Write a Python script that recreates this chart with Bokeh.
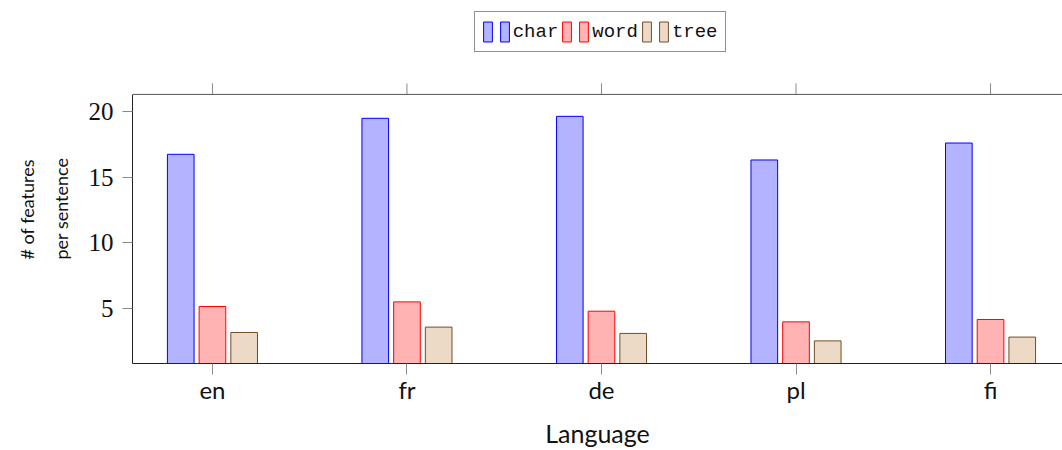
from bokeh.plotting import figure
from bokeh.models import (ColumnDataSource, Range1d, FixedTicker, Span,
                          Legend, LegendItem, Title)
from bokeh.core.properties import value
from bokeh.transform import dodge
from bokeh.embed import file_html
from bokeh.resources import INLINE

languages = ["en", "fr", "de", "pl", "fi"]
char_vals = [16.73, 19.47, 19.62, 16.30, 17.59]
word_vals = [5.15, 5.50, 4.79, 3.98, 4.16]
tree_vals = [3.17, 3.58, 3.10, 2.53, 2.82]
y_ticks = [5, 10, 15, 20]

Y_MIN, Y_MAX = 0.81, 21.29      # visible axis box
PX_PER_UNIT = 13.15
FRAME_H = 363.3                 # frame spans from canvas top to axis bottom
Y_TOP = Y_MIN + FRAME_H / PX_PER_UNIT
TICK_LEN = 11 / PX_PER_UNIT

src = ColumnDataSource(dict(x=list(range(len(languages))),
                            char=char_vals, word=word_vals, tree=tree_vals))

p = figure(width=1062, height=450,
           x_range=Range1d(-0.411, 4.37), y_range=Range1d(Y_MIN, Y_TOP),
           output_backend="svg", toolbar_location=None,
           min_border_left=131, min_border_right=0,
           min_border_top=0, min_border_bottom=87)
p.outline_line_color = None
p.xgrid.visible = False
p.ygrid.visible = False
p.background_fill_color = "white"
p.border_fill_color = "white"

bw = 0.137
off = 0.163
r_char = p.vbar(x=dodge("x", -off, range=p.x_range), top="char", bottom=0, width=bw,
                source=src, fill_color="#B3B3FF", line_color="#0000FF", line_width=1)
r_word = p.vbar(x=dodge("x", 0, range=p.x_range), top="word", bottom=0, width=bw,
                source=src, fill_color="#FFB3B3", line_color="#FF0000", line_width=1)
r_tree = p.vbar(x=dodge("x", off, range=p.x_range), top="tree", bottom=0, width=bw,
                source=src, fill_color="#ECD9C6", line_color="#734D26", line_width=1)

tick_col = "#8a8a8a"

# top border of the axis box + outward ticks
p.add_layout(Span(location=Y_MAX, dimension="width", line_color="#555555", line_width=1))
xs = list(range(len(languages)))
p.segment(x0=xs, y0=[Y_MAX] * len(xs), x1=xs, y1=[Y_MAX + TICK_LEN] * len(xs),
          line_color=tick_col, line_width=1)

# bottom axis
xa = p.xaxis[0]
xa.ticker = FixedTicker(ticks=xs)
xa.major_label_overrides = {i: lab for i, lab in enumerate(languages)}
xa.major_tick_out = 11
xa.major_tick_in = 0
xa.minor_tick_out = 0
xa.minor_tick_in = 0
xa.major_tick_line_color = tick_col
xa.axis_line_color = "#222222"
xa.major_label_text_font = "Lato"
xa.major_label_text_font_size = "24px"
xa.major_label_text_color = "#111111"
xa.major_label_standoff = 0
xa.axis_label = "Language"
xa.axis_label_text_font = "Lato"
xa.axis_label_text_font_size = "25px"
xa.axis_label_text_font_style = "normal"
xa.axis_label_text_color = "#111111"
xa.axis_label_standoff = 11

# left axis
ya = p.yaxis[0]
ya.ticker = FixedTicker(ticks=y_ticks)
ya.bounds = (Y_MIN, Y_MAX)
ya.major_tick_out = 10
ya.major_tick_in = 0
ya.minor_tick_out = 0
ya.minor_tick_in = 0
ya.major_tick_line_color = tick_col
ya.axis_line_color = "#222222"
ya.major_label_text_font = "Liberation Serif"
ya.major_label_text_font_size = "25px"
ya.major_label_text_color = "#111111"
ya.major_label_standoff = 9

# y label as a left title
p.add_layout(Title(text="# of features\nper sentence", align="left", offset=104,
                   text_font="Lato", text_font_size="18px", text_font_style="normal",
                   text_color="#111111", text_line_height=1.55, standoff=27), "left")

legend = Legend(items=[
    LegendItem(label=value(""), renderers=[r_char]),
    LegendItem(label="char", renderers=[r_char]),
    LegendItem(label=value(""), renderers=[r_word]),
    LegendItem(label="word", renderers=[r_word]),
    LegendItem(label=value(""), renderers=[r_tree]),
    LegendItem(label="tree", renderers=[r_tree]),
], orientation="horizontal", location=(341.7, 310.6))
legend.margin = 0
legend.padding = 7
legend.spacing = 3
legend.glyph_width = 11
legend.glyph_height = 25
legend.label_width = 0
legend.label_standoff = 3
legend.label_text_font = "Liberation Mono"
legend.label_text_font_size = "19px"
legend.label_text_color = "#111111"
legend.border_line_color = "#222222"
legend.border_line_width = 1
legend.background_fill_color = "white"
legend.background_fill_alpha = 1
p.add_layout(legend)

open("out.html", "w").write(file_html(p, INLINE))
